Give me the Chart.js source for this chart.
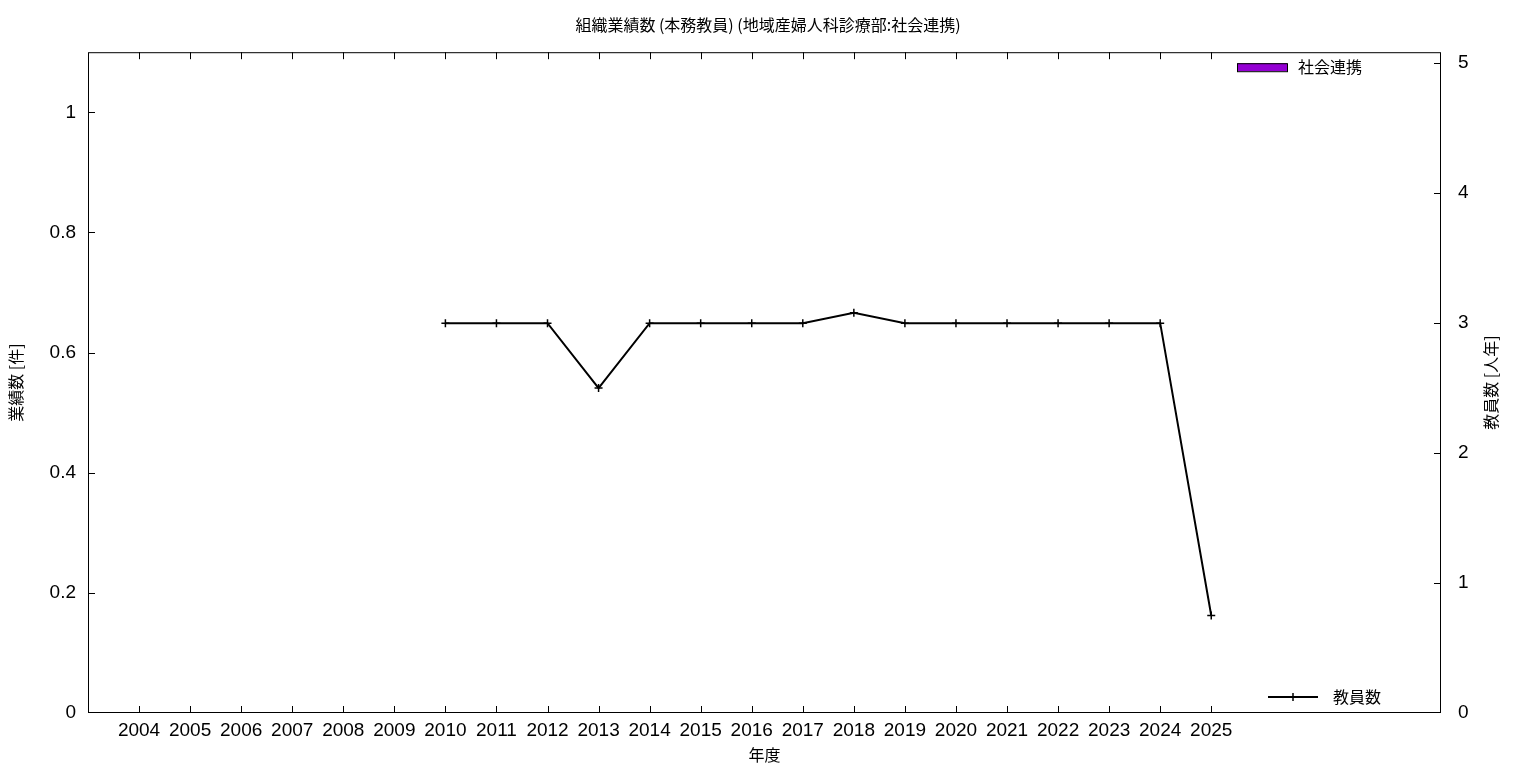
<!DOCTYPE html>
<html>
<head>
<meta charset="utf-8">
<script src="https://cdn.jsdelivr.net/npm/chart.js@4.4.1/dist/chart.umd.min.js"></script>
<style>
html, body { margin: 0; padding: 0; background: #fff; }
</style>
</head>
<body>
<canvas id="myChart" width="1536" height="768"></canvas>
<script>
var years = [2004, 2005, 2006, 2007, 2008, 2009, 2010, 2011, 2012, 2013, 2014,
	2015, 2016, 2017, 2018, 2019, 2020, 2021, 2022, 2023, 2024, 2025];
// 社会連携 (left axis, 件) - no bars in any year
var shakaiRenkei = [0, 0, 0, 0, 0, 0, 0, 0, 0, 0, 0, 0, 0, 0, 0, 0, 0, 0, 0, 0, 0, 0];
// 教員数 (right axis, 人年)
var kyoinsu = [null, null, null, null, null, null, 3, 3, 3, 2.5, 3,
	3, 3, 3, 3.08, 3, 3, 3, 3, 3, 3, 0.75];
var yTicks = [0, 0.2, 0.4, 0.6, 0.8, 1];
var y2Ticks = [0, 1, 2, 3, 4, 5];

var FONT = "'Liberation Sans', 'Noto Sans CJK JP', sans-serif";
var JFONT = "'Noto Sans CJK JP', 'Liberation Sans', sans-serif";

// gnuplot style frame, inward ticks, legends and y2 label
var framePlugin = {
	id: 'frame',
	afterDatasetsDraw: function(chart) {
		var ctx = chart.ctx;
		var a = chart.chartArea;
		var sx = chart.scales.x, sy = chart.scales.y, sy2 = chart.scales.y2;
		ctx.save();
		ctx.strokeStyle = '#000';
		ctx.lineWidth = 1;
		ctx.strokeRect(a.left + 0.5, a.top + 0.5, a.right - a.left - 1, a.bottom - a.top - 1);
		ctx.beginPath();
		sx.ticks.forEach(function(t) {
			var px = Math.round(sx.getPixelForValue(t.value)) + 0.5;
			ctx.moveTo(px, a.bottom); ctx.lineTo(px, a.bottom - 7);
			ctx.moveTo(px, a.top); ctx.lineTo(px, a.top + 7);
		});
		sy.ticks.forEach(function(t) {
			var py = Math.min(Math.round(sy.getPixelForValue(t.value)) + 0.5, a.bottom - 0.5);
			ctx.moveTo(a.left, py); ctx.lineTo(a.left + 7, py);
		});
		sy2.ticks.forEach(function(t) {
			var py = Math.min(Math.round(sy2.getPixelForValue(t.value)) + 0.5, a.bottom - 0.5);
			ctx.moveTo(a.right, py); ctx.lineTo(a.right - 7, py);
		});
		ctx.stroke();

		// legend: 社会連携 (top right)
		ctx.font = '16px ' + JFONT;
		ctx.textBaseline = 'middle';
		ctx.fillStyle = '#9400d3';
		ctx.fillRect(a.right - 204, a.top + 11, 50, 8);
		ctx.strokeStyle = '#000';
		ctx.strokeRect(a.right - 203.5, a.top + 11.5, 50, 8);
		ctx.fillStyle = '#000';
		ctx.fillText('社会連携', a.right - 143, a.top + 15);

		// legend: 教員数 (bottom right)
		ctx.lineWidth = 2;
		ctx.beginPath();
		ctx.moveTo(a.right - 173, a.bottom - 16);
		ctx.lineTo(a.right - 123, a.bottom - 16);
		ctx.stroke();
		ctx.lineWidth = 1.5;
		ctx.beginPath();
		ctx.moveTo(a.right - 148, a.bottom - 20);
		ctx.lineTo(a.right - 148, a.bottom - 12);
		ctx.stroke();
		ctx.fillText('教員数', a.right - 108, a.bottom - 16);

		// y2 label, reading bottom to top like gnuplot
		ctx.save();
		ctx.translate(1491, (a.top + a.bottom) / 2);
		ctx.rotate(-Math.PI / 2);
		ctx.textAlign = 'center';
		ctx.fillText('教員数 [人年]', 0, 0);
		ctx.restore();
		ctx.restore();
	}
};

new Chart(document.getElementById('myChart'), {
	type: 'bar',
	data: {
		datasets: [{
			type: 'bar',
			label: '社会連携',
			data: years.map(function(y, i) { return {x: i, y: shakaiRenkei[i]}; }),
			backgroundColor: '#9400d3',
			borderWidth: 0,
			yAxisID: 'y',
			order: 2
		}, {
			type: 'line',
			label: '教員数',
			data: years.map(function(y, i) { return {x: i, y: kyoinsu[i]}; }),
			borderColor: '#000',
			backgroundColor: '#000',
			borderWidth: 2,
			pointStyle: 'cross',
			pointRadius: 4,
			pointBorderWidth: 1.5,
			pointBorderColor: '#000',
			tension: 0,
			spanGaps: false,
			fill: false,
			yAxisID: 'y2',
			order: 1
		}]
	},
	options: {
		responsive: false,
		animation: false,
		devicePixelRatio: 1,
		layout: { padding: 0 },
		plugins: {
			legend: { display: false },
			tooltip: { enabled: false },
			title: {
				display: true,
				text: '組織業績数 (本務教員) (地域産婦人科診療部:社会連携)',
				color: '#000',
				font: { family: JFONT, size: 16, weight: 'normal' },
				padding: { top: 15, bottom: 18 }
			}
		},
		scales: {
			x: {
				type: 'linear',
				offset: false,
				min: -1,
				max: 25.5,
				afterBuildTicks: function(s) { s.ticks = years.map(function(y, i) { return {value: i}; }); },
				afterFit: function(s) { s.height = 55; },
				ticks: {
					callback: function(v) { return years[v]; },
					color: '#000',
					font: { family: FONT, size: 19 },
					maxRotation: 0,
					autoSkip: false,
					padding: 6
				},
				grid: { display: false, drawTicks: false, offset: false },
				border: { display: false },
				title: {
					display: true,
					text: '年度',
					color: '#000',
					font: { family: JFONT, size: 16 },
					padding: { top: 0, bottom: 3 }
				}
			},
			y: {
				position: 'left',
				min: 0,
				max: 1.1,
				afterBuildTicks: function(s) { s.ticks = yTicks.map(function(v) { return {value: v}; }); },
				afterFit: function(s) { s.width = 88; },
				ticks: {
					callback: function(v) { return String(v); },
					color: '#000',
					font: { family: FONT, size: 19 },
					padding: 12
				},
				grid: { display: false, drawTicks: false },
				border: { display: false },
				title: {
					display: true,
					text: '業績数 [件]',
					color: '#000',
					font: { family: JFONT, size: 16 },
					padding: { top: 6, bottom: 0 }
				}
			},
			y2: {
				position: 'right',
				min: 0,
				max: 5.085,
				afterBuildTicks: function(s) { s.ticks = y2Ticks.map(function(v) { return {value: v}; }); },
				afterFit: function(s) { s.width = 95; },
				ticks: {
					callback: function(v) { return String(v); },
					color: '#000',
					font: { family: FONT, size: 19 },
					padding: 17
				},
				grid: { display: false, drawTicks: false },
				border: { display: false }
			}
		}
	},
	plugins: [framePlugin]
});
</script>
</body>
</html>
